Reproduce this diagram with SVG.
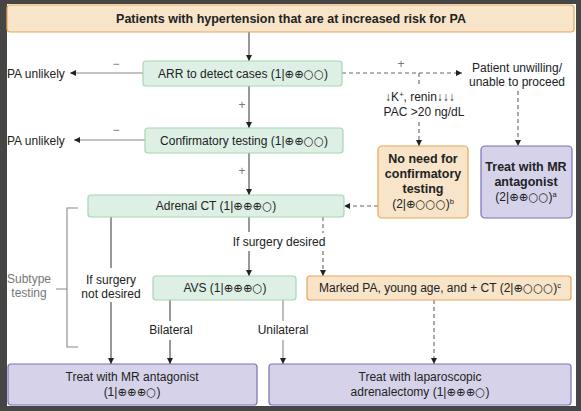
<svg xmlns="http://www.w3.org/2000/svg" width="581" height="411" viewBox="0 0 581 411">
<style>
text{font-family:"Liberation Sans","DejaVu Sans",sans-serif;font-size:12px;fill:#222;text-anchor:middle}
.sy{font-family:"DejaVu Sans",sans-serif;font-size:11.5px}
.sp{font-size:7.5px}
.t{font-size:12.5px;font-weight:bold}
.l{text-anchor:start}
.g{fill:#777}
.or{fill:#f7e4c9;stroke:#e8a455;stroke-width:1.2}
.gr{fill:#def0e5;stroke:#a8d5b2;stroke-width:1.2}
.pu{fill:#d5d2ea;stroke:#7b71b3;stroke-width:1.2}
.s{stroke:#444;stroke-width:1.1;fill:none}
.sg{stroke:#888;stroke-width:1.1;fill:none}
.d{stroke:#666;stroke-width:1.1;fill:none;stroke-dasharray:4 3}
.a{marker-end:url(#ah)}
</style>
<defs>
<marker id="ah" viewBox="0 0 6 6" refX="6" refY="3" markerWidth="6" markerHeight="6" markerUnits="userSpaceOnUse" orient="auto">
<path d="M0,0 L6,3 L0,6 z" fill="#222"/>
</marker>
</defs>
<rect x="0" y="0" width="581" height="411" fill="#454545"/>
<rect x="7" y="4" width="569" height="402" fill="#ffffff"/>

<g id="connectors">
<line class="s a" x1="249" y1="32" x2="249" y2="61"/>
<line class="sg a" x1="143" y1="73" x2="70" y2="73"/>
<line class="s a" x1="249" y1="86" x2="249" y2="128"/>
<line class="sg a" x1="145" y1="140" x2="74" y2="140"/>
<line class="s a" x1="249" y1="153" x2="249" y2="195"/>
<line class="d a" x1="342" y1="73" x2="462" y2="73"/>
<line class="d" x1="419" y1="73" x2="419" y2="86"/>
<line class="d a" x1="419" y1="122" x2="419" y2="146"/>
<line class="d a" x1="518" y1="91" x2="518" y2="146"/>
<line class="d a" x1="378" y1="206" x2="344" y2="206"/>
<line class="s" x1="249" y1="217" x2="249" y2="232"/>
<line class="s a" x1="249" y1="251" x2="249" y2="276"/>
<line class="d" x1="323" y1="217" x2="323" y2="233"/>
<line class="d a" x1="323" y1="251" x2="323" y2="276"/>
<line class="s" x1="111" y1="217" x2="111" y2="268"/>
<line class="s a" x1="111" y1="302" x2="111" y2="364"/>
<line class="s" x1="170" y1="300" x2="170" y2="321"/>
<line class="s a" x1="170" y1="340" x2="170" y2="364"/>
<line class="sg" x1="283" y1="300" x2="283" y2="321"/>
<line class="sg a" x1="283" y1="340" x2="283" y2="364"/>
<line class="d a" x1="434" y1="300" x2="434" y2="364"/>
<path class="sg" d="M78,208 H67 V347 H78 M56,289 H67"/>
<text class="g" x="116" y="68">−</text>
<text class="g" x="116" y="134">−</text>
<text class="g" x="242" y="109">+</text>
<text class="g" x="242" y="175">+</text>
<text class="g" x="401" y="68">+</text>
<text x="420" y="101">↓K<tspan class="sp" dy="-4">+</tspan><tspan dy="4">, renin↓↓↓</tspan></text>
<text x="424" y="116">PAC &gt;20 ng/dL</text>
<text x="279" y="246">If surgery desired</text>
<text x="111" y="284">If surgery</text>
<text x="111" y="298">not desired</text>
<text x="171" y="334">Bilateral</text>
<text x="283" y="334">Unilateral</text>
<text class="g" x="29" y="283">Subtype</text>
<text class="g" x="29" y="297">testing</text>
</g>

<g id="n_title">
<rect class="or" x="7" y="5" width="567" height="27" rx="3"/>
<text class="t" x="291" y="23">Patients with hypertension that are at increased risk for PA</text>
</g>
<g id="n_arr">
<rect class="gr" x="143" y="61" width="199" height="25" rx="3"/>
<text x="243" y="78">ARR to detect cases (1|<tspan class="sy">⊕⊕○○</tspan>)</text>
</g>
<g id="n_unlikely1"><text class="l" x="7" y="78">PA unlikely</text></g>
<g id="n_unwilling">
<text x="517" y="72">Patient unwilling/</text>
<text x="517" y="86">unable to proceed</text>
</g>
<g id="n_conf">
<rect class="gr" x="145" y="128" width="198" height="25" rx="3"/>
<text x="244" y="145">Confirmatory testing (1|<tspan class="sy">⊕⊕○○</tspan>)</text>
</g>
<g id="n_unlikely2"><text class="l" x="7" y="145">PA unlikely</text></g>
<g id="n_noneed">
<rect class="or" x="378" y="146" width="90" height="72" rx="4"/>
<text class="t" x="423" y="163">No need for</text>
<text class="t" x="423" y="178">confirmatory</text>
<text class="t" x="423" y="193">testing</text>
<text x="423" y="208">(2|<tspan class="sy">⊕○○○</tspan>)<tspan class="sp" dy="-4">b</tspan></text>
</g>
<g id="n_mr1">
<rect class="pu" x="481" y="146" width="91" height="72" rx="4"/>
<text class="t" x="526" y="171">Treat with MR</text>
<text class="t" x="526" y="186">antagonist</text>
<text x="526" y="201">(2|<tspan class="sy">⊕⊕○○</tspan>)<tspan class="sp" dy="-4">a</tspan></text>
</g>
<g id="n_ct">
<rect class="gr" x="88" y="195" width="256" height="22" rx="3"/>
<text x="216" y="210">Adrenal CT (1|<tspan class="sy">⊕⊕⊕○</tspan>)</text>
</g>
<g id="n_avs">
<rect class="gr" x="153" y="276" width="143" height="24" rx="3"/>
<text x="225" y="292">AVS (1|<tspan class="sy">⊕⊕⊕○</tspan>)</text>
</g>
<g id="n_marked">
<rect class="or" x="307" y="276" width="264" height="24" rx="3"/>
<text x="440" y="292">Marked PA, young age, and + CT (2|<tspan class="sy">⊕○○○</tspan>)<tspan class="sp" dy="-4">c</tspan></text>
</g>
<g id="n_mr2">
<rect class="pu" x="8" y="364" width="249" height="41" rx="3"/>
<text x="132" y="381">Treat with MR antagonist</text>
<text x="132" y="396">(1|<tspan class="sy">⊕⊕⊕○</tspan>)</text>
</g>
<g id="n_lap">
<rect class="pu" x="269" y="364" width="302" height="41" rx="3"/>
<text x="420" y="381">Treat with laparoscopic</text>
<text x="420" y="396">adrenalectomy (1|<tspan class="sy">⊕⊕⊕○</tspan>)</text>
</g>
</svg>
